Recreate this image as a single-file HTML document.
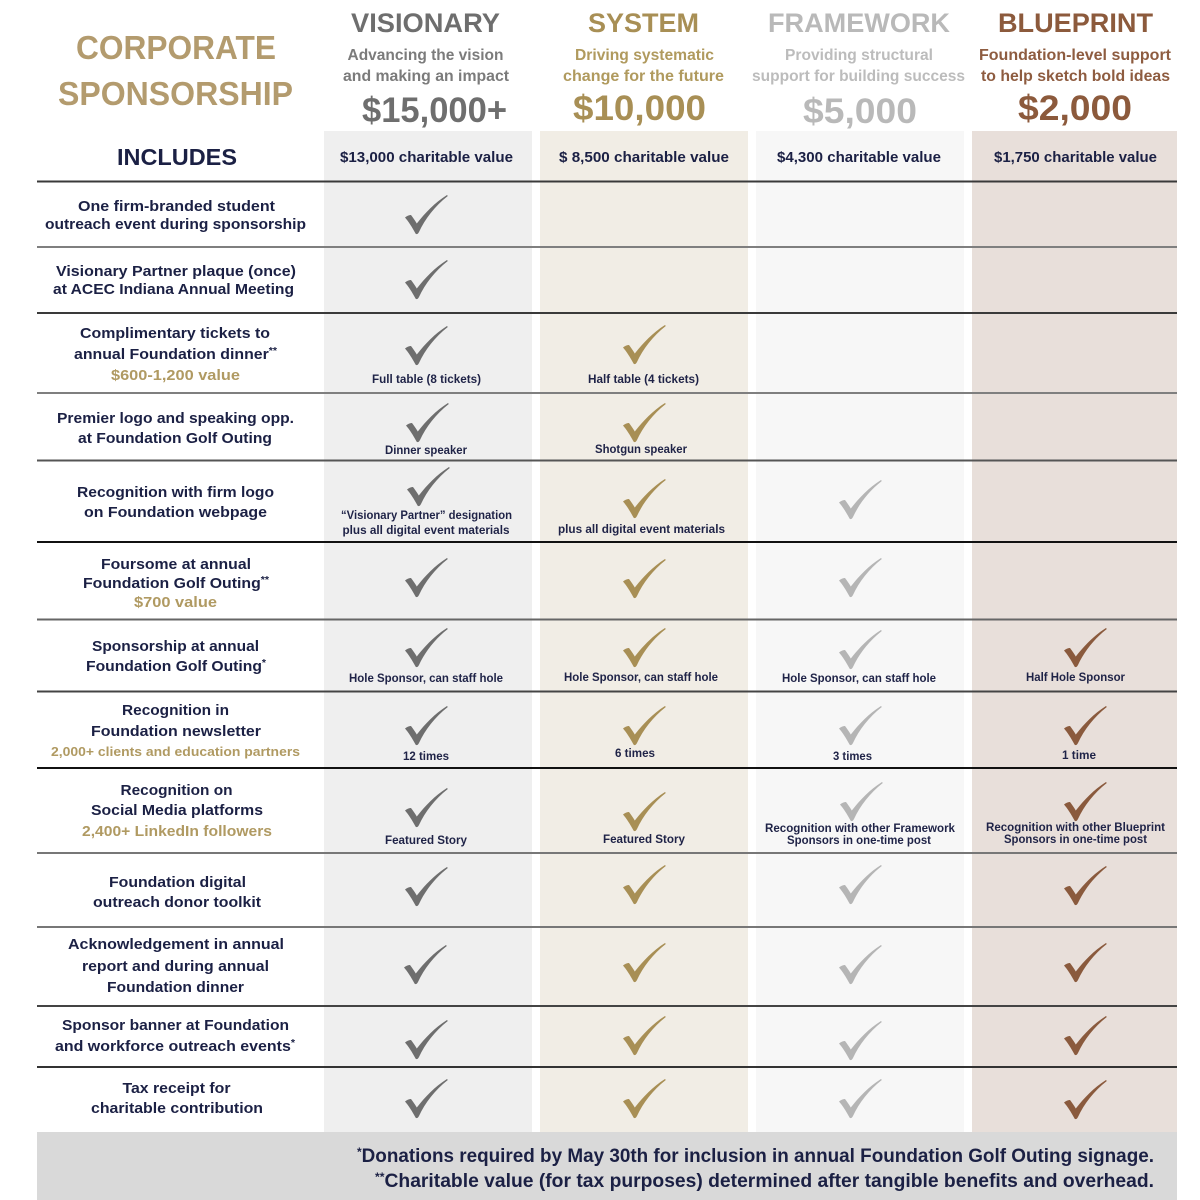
<!DOCTYPE html>
<html>
<head>
<meta charset="utf-8">
<style>
  html,body{margin:0;padding:0;background:#fff;}
  svg{display:block;}
  text{font-family:"Liberation Sans",Arial,sans-serif;font-weight:bold;}
</style>
</head>
<body>
<svg width="1200" height="1200" viewBox="0 0 1200 1200" xmlns="http://www.w3.org/2000/svg">
  <defs>
    <path id="ck" d="M0,22.5 C2,21 4,19.8 6,20 C8,22.5 10,25.5 11.8,28.5 C20,18 30,7.5 42,0 L42.8,1 C30,11 20,24 14,37 C13,39 11.5,39.8 10.5,38.5 C7,32 3.5,26.5 0,22.5 Z"/>
  </defs>
  <rect x="0" y="0" width="1200" height="1200" fill="#ffffff"/>

  <!-- column backgrounds -->
  <rect x="324" y="131" width="208" height="1001" fill="#efefef"/>
  <rect x="540" y="131" width="208" height="1001" fill="#f1ede5"/>
  <rect x="756" y="131" width="208" height="1001" fill="#f7f7f7"/>
  <rect x="972" y="131" width="205" height="1001" fill="#e8dfda"/>

  <!-- footer -->
  <rect x="37" y="1132" width="1140" height="68" fill="#d9d9d9"/>

  <!-- horizontal lines -->
  <g stroke-width="2">
    <line x1="37" x2="1177" y1="181.5" y2="181.5" stroke="#3a3a3a"/>
    <line x1="37" x2="1177" y1="247" y2="247" stroke="#7f7f7f"/>
    <line x1="37" x2="1177" y1="313" y2="313" stroke="#3a3a3a"/>
    <line x1="37" x2="1177" y1="393" y2="393" stroke="#7f7f7f"/>
    <line x1="37" x2="1177" y1="460.5" y2="460.5" stroke="#555"/>
    <line x1="37" x2="1177" y1="542" y2="542" stroke="#111"/>
    <line x1="37" x2="1177" y1="619.5" y2="619.5" stroke="#666"/>
    <line x1="37" x2="1177" y1="691.5" y2="691.5" stroke="#444"/>
    <line x1="37" x2="1177" y1="768" y2="768" stroke="#111"/>
    <line x1="37" x2="1177" y1="853" y2="853" stroke="#777"/>
    <line x1="37" x2="1177" y1="927" y2="927" stroke="#777"/>
    <line x1="37" x2="1177" y1="1006" y2="1006" stroke="#444"/>
    <line x1="37" x2="1177" y1="1067" y2="1067" stroke="#333"/>
  </g>

  <!-- header left -->
  <g text-anchor="middle" fill="#b39b6e">
    <text x="176" y="59" font-size="33" textLength="200" lengthAdjust="spacingAndGlyphs">CORPORATE</text>
    <text x="175.5" y="105" font-size="33" textLength="235" lengthAdjust="spacingAndGlyphs">SPONSORSHIP</text>
  </g>
  <text x="177" y="165" font-size="23.5" fill="#1b2044" text-anchor="middle" textLength="120" lengthAdjust="spacingAndGlyphs">INCLUDES</text>

  <!-- Visionary header -->
  <g text-anchor="middle" fill="#6e6e6e">
    <text x="425.5" y="32" font-size="27" textLength="149" lengthAdjust="spacingAndGlyphs">VISIONARY</text>
    <text x="425.5" y="60" font-size="16" fill="#7b7b7b" textLength="156" lengthAdjust="spacingAndGlyphs">Advancing the vision</text>
    <text x="426" y="81" font-size="16" fill="#7b7b7b" textLength="166" lengthAdjust="spacingAndGlyphs">and making an impact</text>
    <text x="434.5" y="122" font-size="35" textLength="145" lengthAdjust="spacingAndGlyphs">$15,000+</text>
  </g>
  <!-- System header -->
  <g text-anchor="middle" fill="#a88f55">
    <text x="643.5" y="32" font-size="27" textLength="111" lengthAdjust="spacingAndGlyphs">SYSTEM</text>
    <text x="644.5" y="60" font-size="16" fill="#b09a5e" textLength="139" lengthAdjust="spacingAndGlyphs">Driving systematic</text>
    <text x="643.5" y="81" font-size="16" fill="#b09a5e" textLength="161" lengthAdjust="spacingAndGlyphs">change for the future</text>
    <text x="639.5" y="120" font-size="35" textLength="133" lengthAdjust="spacingAndGlyphs">$10,000</text>
  </g>
  <!-- Framework header -->
  <g text-anchor="middle" fill="#b9b9b9">
    <text x="859" y="32" font-size="27" textLength="182" lengthAdjust="spacingAndGlyphs">FRAMEWORK</text>
    <text x="859" y="60" font-size="16" fill="#bcbcbc" textLength="148" lengthAdjust="spacingAndGlyphs">Providing structural</text>
    <text x="858.5" y="81" font-size="16" fill="#bcbcbc" textLength="213" lengthAdjust="spacingAndGlyphs">support for building success</text>
    <text x="860" y="123" font-size="35" textLength="114" lengthAdjust="spacingAndGlyphs">$5,000</text>
  </g>
  <!-- Blueprint header -->
  <g text-anchor="middle" fill="#8c5a3c">
    <text x="1075.5" y="32" font-size="27" textLength="155" lengthAdjust="spacingAndGlyphs">BLUEPRINT</text>
    <text x="1075" y="60" font-size="16" fill="#8e5c40" textLength="192" lengthAdjust="spacingAndGlyphs">Foundation-level support</text>
    <text x="1075.5" y="81" font-size="16" fill="#8e5c40" textLength="189" lengthAdjust="spacingAndGlyphs">to help sketch bold ideas</text>
    <text x="1075" y="120" font-size="35" textLength="114" lengthAdjust="spacingAndGlyphs">$2,000</text>
  </g>

  <!-- charitable values -->
  <g text-anchor="middle" fill="#1b2044" font-size="15">
    <text x="426.5" y="162" textLength="173" lengthAdjust="spacingAndGlyphs">$13,000 charitable value</text>
    <text x="644" y="162" textLength="170" lengthAdjust="spacingAndGlyphs">$ 8,500 charitable value</text>
    <text x="859" y="162" textLength="164" lengthAdjust="spacingAndGlyphs">$4,300 charitable value</text>
    <text x="1075.5" y="162" textLength="163" lengthAdjust="spacingAndGlyphs">$1,750 charitable value</text>
  </g>

  <!-- feature labels -->
  <g text-anchor="middle" fill="#1b2044" font-size="15">
    <text x="176.5" y="211" textLength="197" lengthAdjust="spacingAndGlyphs">One firm-branded student</text>
    <text x="175.5" y="229" textLength="261" lengthAdjust="spacingAndGlyphs">outreach event during sponsorship</text>

    <text x="176" y="276" textLength="240" lengthAdjust="spacingAndGlyphs">Visionary Partner plaque (once)</text>
    <text x="173.5" y="294" textLength="241" lengthAdjust="spacingAndGlyphs">at ACEC Indiana Annual Meeting</text>

    <text x="175" y="338" textLength="190" lengthAdjust="spacingAndGlyphs">Complimentary tickets to</text>
    <text x="175.5" y="359" textLength="203" lengthAdjust="spacingAndGlyphs">annual Foundation dinner<tspan font-size="10" dy="-5">**</tspan></text>
    <text x="175.5" y="380" fill="#b09a62" textLength="129" lengthAdjust="spacingAndGlyphs">$600-1,200 value</text>

    <text x="175.5" y="423" textLength="237" lengthAdjust="spacingAndGlyphs">Premier logo and speaking opp.</text>
    <text x="175" y="443" textLength="194" lengthAdjust="spacingAndGlyphs">at Foundation Golf Outing</text>

    <text x="175.5" y="497" textLength="197" lengthAdjust="spacingAndGlyphs">Recognition with firm logo</text>
    <text x="175.5" y="517" textLength="183" lengthAdjust="spacingAndGlyphs">on Foundation webpage</text>

    <text x="176" y="569" textLength="150" lengthAdjust="spacingAndGlyphs">Foursome at annual</text>
    <text x="176" y="588" textLength="186" lengthAdjust="spacingAndGlyphs">Foundation Golf Outing<tspan font-size="10" dy="-5">**</tspan></text>
    <text x="175.5" y="607" fill="#b09a62" textLength="83" lengthAdjust="spacingAndGlyphs">$700 value</text>

    <text x="175.5" y="651" textLength="167" lengthAdjust="spacingAndGlyphs">Sponsorship at annual</text>
    <text x="176" y="671" textLength="180" lengthAdjust="spacingAndGlyphs">Foundation Golf Outing<tspan font-size="10" dy="-5">*</tspan></text>

    <text x="175.5" y="715" textLength="107" lengthAdjust="spacingAndGlyphs">Recognition in</text>
    <text x="176" y="736" textLength="170" lengthAdjust="spacingAndGlyphs">Foundation newsletter</text>
    <text x="175.5" y="756" font-size="13" fill="#b09a62" textLength="249" lengthAdjust="spacingAndGlyphs">2,000+ clients and education partners</text>

    <text x="176.5" y="795" textLength="112" lengthAdjust="spacingAndGlyphs">Recognition on</text>
    <text x="177" y="815" textLength="172" lengthAdjust="spacingAndGlyphs">Social Media platforms</text>
    <text x="177" y="836" fill="#b09a62" textLength="190" lengthAdjust="spacingAndGlyphs">2,400+ LinkedIn followers</text>

    <text x="177.5" y="887" textLength="137" lengthAdjust="spacingAndGlyphs">Foundation digital</text>
    <text x="177" y="907" textLength="168" lengthAdjust="spacingAndGlyphs">outreach donor toolkit</text>

    <text x="176" y="949" textLength="216" lengthAdjust="spacingAndGlyphs">Acknowledgement in annual</text>
    <text x="175.5" y="971" textLength="187" lengthAdjust="spacingAndGlyphs">report and during annual</text>
    <text x="175.5" y="992" textLength="137" lengthAdjust="spacingAndGlyphs">Foundation dinner</text>

    <text x="175.5" y="1030" textLength="227" lengthAdjust="spacingAndGlyphs">Sponsor banner at Foundation</text>
    <text x="175" y="1051" textLength="240" lengthAdjust="spacingAndGlyphs">and workforce outreach events<tspan font-size="10" dy="-5">*</tspan></text>

    <text x="176.5" y="1093" textLength="108" lengthAdjust="spacingAndGlyphs">Tax receipt for</text>
    <text x="177" y="1113" textLength="172" lengthAdjust="spacingAndGlyphs">charitable contribution</text>
  </g>

  <!-- sub notes -->
  <g text-anchor="middle" fill="#1f2347" font-size="11.5">
    <text x="426.5" y="383" textLength="109" lengthAdjust="spacingAndGlyphs">Full table (8 tickets)</text>
    <text x="643.5" y="383" textLength="111" lengthAdjust="spacingAndGlyphs">Half table (4 tickets)</text>
    <text x="426" y="454" textLength="82" lengthAdjust="spacingAndGlyphs">Dinner speaker</text>
    <text x="641" y="453" textLength="92" lengthAdjust="spacingAndGlyphs">Shotgun speaker</text>
    <text x="426.5" y="519" textLength="171" lengthAdjust="spacingAndGlyphs">“Visionary Partner” designation</text>
    <text x="426" y="534" textLength="167" lengthAdjust="spacingAndGlyphs">plus all digital event materials</text>
    <text x="641.5" y="533" textLength="167" lengthAdjust="spacingAndGlyphs">plus all digital event materials</text>
    <text x="426" y="682" textLength="154" lengthAdjust="spacingAndGlyphs">Hole Sponsor, can staff hole</text>
    <text x="641" y="681" textLength="154" lengthAdjust="spacingAndGlyphs">Hole Sponsor, can staff hole</text>
    <text x="859" y="682" textLength="154" lengthAdjust="spacingAndGlyphs">Hole Sponsor, can staff hole</text>
    <text x="1075.5" y="681" textLength="99" lengthAdjust="spacingAndGlyphs">Half Hole Sponsor</text>
    <text x="426" y="760" textLength="46" lengthAdjust="spacingAndGlyphs">12 times</text>
    <text x="635" y="757" textLength="40" lengthAdjust="spacingAndGlyphs">6 times</text>
    <text x="852.5" y="760" textLength="39" lengthAdjust="spacingAndGlyphs">3 times</text>
    <text x="1079" y="759" textLength="34" lengthAdjust="spacingAndGlyphs">1 time</text>
    <text x="426" y="844" textLength="82" lengthAdjust="spacingAndGlyphs">Featured Story</text>
    <text x="644" y="843" textLength="82" lengthAdjust="spacingAndGlyphs">Featured Story</text>
    <text x="860" y="832" textLength="190" lengthAdjust="spacingAndGlyphs">Recognition with other Framework</text>
    <text x="859" y="844" textLength="144" lengthAdjust="spacingAndGlyphs">Sponsors in one-time post</text>
    <text x="1075.5" y="831" textLength="179" lengthAdjust="spacingAndGlyphs">Recognition with other Blueprint</text>
    <text x="1075.5" y="843" textLength="143" lengthAdjust="spacingAndGlyphs">Sponsors in one-time post</text>
  </g>

  <!-- checkmarks: Visionary -->
  <g fill="#6e6e6e">
    <use href="#ck" x="405" y="195"/>
    <use href="#ck" x="405" y="260"/>
    <use href="#ck" x="405" y="326"/>
    <use href="#ck" x="406" y="403"/>
    <use href="#ck" x="407" y="467"/>
    <use href="#ck" x="405" y="558"/>
    <use href="#ck" x="405" y="628"/>
    <use href="#ck" x="405" y="706"/>
    <use href="#ck" x="405" y="788"/>
    <use href="#ck" x="405" y="867"/>
    <use href="#ck" x="404" y="945"/>
    <use href="#ck" x="405" y="1020"/>
    <use href="#ck" x="405" y="1079"/>
  </g>
  <!-- System -->
  <g fill="#a88f55">
    <use href="#ck" x="623" y="325"/>
    <use href="#ck" x="623" y="403"/>
    <use href="#ck" x="623" y="479"/>
    <use href="#ck" x="623" y="559"/>
    <use href="#ck" x="623" y="628"/>
    <use href="#ck" x="623" y="706"/>
    <use href="#ck" x="623" y="792"/>
    <use href="#ck" x="623" y="865"/>
    <use href="#ck" x="623" y="943"/>
    <use href="#ck" x="623" y="1016"/>
    <use href="#ck" x="623" y="1079"/>
  </g>
  <!-- Framework -->
  <g fill="#b5b5b5">
    <use href="#ck" x="839" y="480"/>
    <use href="#ck" x="839" y="558"/>
    <use href="#ck" x="839" y="630"/>
    <use href="#ck" x="839" y="706"/>
    <use href="#ck" x="840" y="782"/>
    <use href="#ck" x="839" y="865"/>
    <use href="#ck" x="839" y="945"/>
    <use href="#ck" x="839" y="1021"/>
    <use href="#ck" x="839" y="1079"/>
  </g>
  <!-- Blueprint -->
  <g fill="#8a5a3d">
    <use href="#ck" x="1064" y="628"/>
    <use href="#ck" x="1064" y="706"/>
    <use href="#ck" x="1064" y="782"/>
    <use href="#ck" x="1064" y="866"/>
    <use href="#ck" x="1064" y="943"/>
    <use href="#ck" x="1064" y="1016"/>
    <use href="#ck" x="1064" y="1080"/>
  </g>

  <!-- footer text -->
  <g text-anchor="end" fill="#1b2044" font-size="19">
    <text x="1154" y="1162" textLength="797" lengthAdjust="spacingAndGlyphs"><tspan font-size="12" dy="-6">*</tspan><tspan dy="6">Donations required by May 30th for inclusion in annual Foundation Golf Outing signage.</tspan></text>
    <text x="1154" y="1187" textLength="779" lengthAdjust="spacingAndGlyphs"><tspan font-size="12" dy="-6">**</tspan><tspan dy="6">Charitable value (for tax purposes) determined after tangible benefits and overhead.</tspan></text>
  </g>
</svg>
</body>
</html>
